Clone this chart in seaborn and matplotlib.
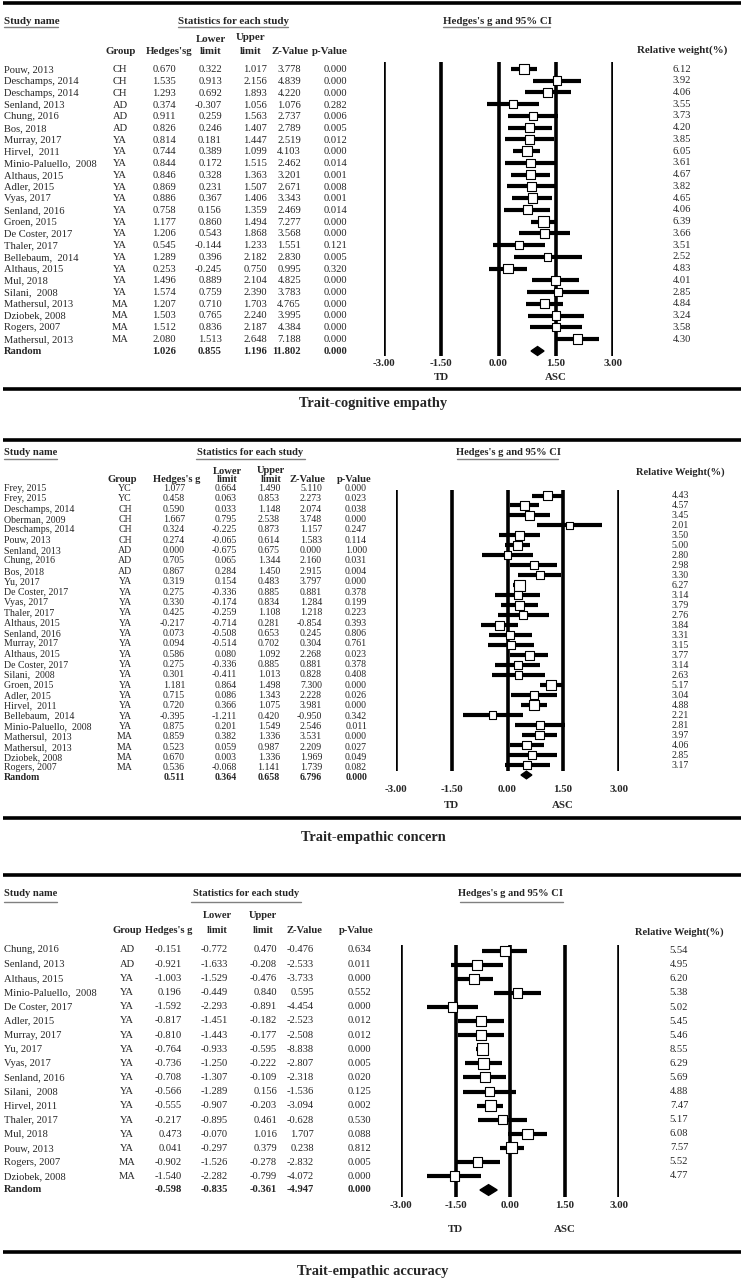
import pandas as pd
import seaborn as sns
import matplotlib.pyplot as plt

# ---------------- Trait-cognitive empathy ----------------
cog_names = ["Pouw, 2013", "Deschamps, 2014", "Deschamps, 2014", "Senland, 2013", "Chung, 2016",
             "Bos, 2018", "Murray, 2017", "Hirvel,  2011", "Minio-Paluello,  2008", "Althaus, 2015",
             "Adler, 2015", "Vyas, 2017", "Senland, 2016", "Groen, 2015", "De Coster, 2017",
             "Thaler, 2017", "Bellebaum,  2014", "Althaus, 2015", "Mul, 2018", "Silani,  2008",
             "Mathersul, 2013", "Dziobek, 2008", "Rogers, 2007", "Mathersul, 2013"]
cog_group = ["CH", "CH", "CH", "AD", "AD", "AD", "YA", "YA", "YA", "YA", "YA", "YA", "YA", "YA",
             "YA", "YA", "YA", "YA", "YA", "YA", "MA", "MA", "MA", "MA"]
cog_g = [0.670, 1.535, 1.293, 0.374, 0.911, 0.826, 0.814, 0.744, 0.844, 0.846, 0.869, 0.886,
         0.758, 1.177, 1.206, 0.545, 1.289, 0.253, 1.496, 1.574, 1.207, 1.503, 1.512, 2.080]
cog_lo = [0.322, 0.913, 0.692, -0.307, 0.259, 0.246, 0.181, 0.389, 0.172, 0.328, 0.231, 0.367,
          0.156, 0.860, 0.543, -0.144, 0.396, -0.245, 0.889, 0.759, 0.710, 0.765, 0.836, 1.513]
cog_hi = [1.017, 2.156, 1.893, 1.056, 1.563, 1.407, 1.447, 1.099, 1.515, 1.363, 1.507, 1.406,
          1.359, 1.494, 1.868, 1.233, 2.182, 0.750, 2.104, 2.390, 1.703, 2.240, 2.187, 2.648]
cog_z = [3.778, 4.839, 4.220, 1.076, 2.737, 2.789, 2.519, 4.103, 2.462, 3.201, 2.671, 3.343,
         2.469, 7.277, 3.568, 1.551, 2.830, 0.995, 4.825, 3.783, 4.765, 3.995, 4.384, 7.188]
cog_p = [0.000, 0.000, 0.000, 0.282, 0.006, 0.005, 0.012, 0.000, 0.014, 0.001, 0.008, 0.001,
         0.014, 0.000, 0.000, 0.121, 0.005, 0.320, 0.000, 0.000, 0.000, 0.000, 0.000, 0.000]
cog_w = [6.12, 3.92, 4.06, 3.55, 3.73, 4.20, 3.85, 6.05, 3.61, 4.67, 3.82, 4.65, 4.06, 6.39,
         3.66, 3.51, 2.52, 4.83, 4.01, 2.85, 4.84, 3.24, 3.58, 4.30]
cog_random = [1.026, 0.855, 1.196, 11.802, 0.000]

# ---------------- Trait-empathic concern ----------------
con_names = ["Frey, 2015", "Frey, 2015", "Deschamps, 2014", "Oberman, 2009", "Deschamps, 2014",
             "Pouw, 2013", "Senland, 2013", "Chung, 2016", "Bos, 2018", "Yu, 2017",
             "De Coster, 2017", "Vyas, 2017", "Thaler, 2017", "Althaus, 2015", "Senland, 2016",
             "Murray, 2017", "Althaus, 2015", "De Coster, 2017", "Silani,  2008", "Groen, 2015",
             "Adler, 2015", "Hirvel,  2011", "Bellebaum,  2014", "Minio-Paluello,  2008",
             "Mathersul,  2013", "Mathersul,  2013", "Dziobek, 2008", "Rogers, 2007"]
con_group = ["YC", "YC", "CH", "CH", "CH", "CH", "AD", "AD", "AD", "YA", "YA", "YA", "YA", "YA",
             "YA", "YA", "YA", "YA", "YA", "YA", "YA", "YA", "YA", "YA", "MA", "MA", "MA", "MA"]
con_g = [1.077, 0.458, 0.590, 1.667, 0.324, 0.274, 0.000, 0.705, 0.867, 0.319, 0.275, 0.330,
         0.425, -0.217, 0.073, 0.094, 0.586, 0.275, 0.301, 1.181, 0.715, 0.720, -0.395, 0.875,
         0.859, 0.523, 0.670, 0.536]
con_lo = [0.664, 0.063, 0.033, 0.795, -0.225, -0.065, -0.675, 0.065, 0.284, 0.154, -0.336,
          -0.174, -0.259, -0.714, -0.508, -0.514, 0.080, -0.336, -0.411, 0.864, 0.086, 0.366,
          -1.211, 0.201, 0.382, 0.059, 0.003, -0.068]
con_hi = [1.490, 0.853, 1.148, 2.538, 0.873, 0.614, 0.675, 1.344, 1.450, 0.483, 0.885, 0.834,
          1.108, 0.281, 0.653, 0.702, 1.092, 0.885, 1.013, 1.498, 1.343, 1.075, 0.420, 1.549,
          1.336, 0.987, 1.336, 1.141]
con_z = [5.110, 2.273, 2.074, 3.748, 1.157, 1.583, 0.000, 2.160, 2.915, 3.797, 0.881, 1.284,
         1.218, -0.854, 0.245, 0.304, 2.268, 0.881, 0.828, 7.300, 2.228, 3.981, -0.950, 2.546,
         3.531, 2.209, 1.969, 1.739]
con_p = [0.000, 0.023, 0.038, 0.000, 0.247, 0.114, 1.000, 0.031, 0.004, 0.000, 0.378, 0.199,
         0.223, 0.393, 0.806, 0.761, 0.023, 0.378, 0.408, 0.000, 0.026, 0.000, 0.342, 0.011,
         0.000, 0.027, 0.049, 0.082]
con_w = [4.43, 4.57, 3.45, 2.01, 3.50, 5.00, 2.80, 2.98, 3.30, 6.27, 3.14, 3.79, 2.76, 3.84,
         3.31, 3.15, 3.77, 3.14, 2.63, 5.17, 3.04, 4.88, 2.21, 2.81, 3.97, 4.06, 2.85, 3.17]
con_random = [0.511, 0.364, 0.658, 6.796, 0.000]

# ---------------- Trait-empathic accuracy ----------------
acc_names = ["Chung, 2016", "Senland, 2013", "Althaus, 2015", "Minio-Paluello,  2008",
             "De Coster, 2017", "Adler, 2015", "Murray, 2017", "Yu, 2017", "Vyas, 2017",
             "Senland, 2016", "Silani,  2008", "Hirvel, 2011", "Thaler, 2017", "Mul, 2018",
             "Pouw, 2013", "Rogers, 2007", "Dziobek, 2008"]
acc_group = ["AD", "AD", "YA", "YA", "YA", "YA", "YA", "YA", "YA", "YA", "YA", "YA", "YA", "YA",
             "YA", "MA", "MA"]
acc_g = [-0.151, -0.921, -1.003, 0.196, -1.592, -0.817, -0.810, -0.764, -0.736, -0.708, -0.566,
         -0.555, -0.217, 0.473, 0.041, -0.902, -1.540]
acc_lo = [-0.772, -1.633, -1.529, -0.449, -2.293, -1.451, -1.443, -0.933, -1.250, -1.307,
          -1.289, -0.907, -0.895, -0.070, -0.297, -1.526, -2.282]
acc_hi = [0.470, -0.208, -0.476, 0.840, -0.891, -0.182, -0.177, -0.595, -0.222, -0.109, 0.156,
          -0.203, 0.461, 1.016, 0.379, -0.278, -0.799]
acc_z = [-0.476, -2.533, -3.733, 0.595, -4.454, -2.523, -2.508, -8.838, -2.807, -2.318, -1.536,
         -3.094, -0.628, 1.707, 0.238, -2.832, -4.072]
acc_p = [0.634, 0.011, 0.000, 0.552, 0.000, 0.012, 0.012, 0.000, 0.005, 0.020, 0.125, 0.002,
         0.530, 0.088, 0.812, 0.005, 0.000]
acc_w = [5.54, 4.95, 6.20, 5.38, 5.02, 5.45, 5.46, 8.55, 6.29, 5.69, 4.88, 7.47, 5.17, 6.08,
         7.57, 5.52, 4.77]
acc_random = [-0.598, -0.835, -0.361, -4.947, 0.000]

axis_ticks = [-3.0, -1.5, 0.0, 1.5, 3.0]

# ---------------- layout (pixel positions) ----------------
layout_cog = dict(top_line=3, bot_line=389, head1=22, underline=27, lower_y=39, upper_y=38,
                  head2=52, study_ul=(4, 58), stats_x=233, stats_ul=(178, 288),
                  ci_x=497, ci_ul=(443, 550), fs=7.6, hfs=7.8,
                  num_right=dict(g=176, lo=222, hi=267, z=301, p=347), group_x=120,
                  head_x=dict(group=121, g=169, lo=211, hi=251, z=290, p=330),
                  row_top=70, row_bot=339.3, rand_y=351.7,
                  f_top=69, f_bot=339, f_rand=351, v_top=62, v_bot=356,
                  xm3=384.3, xp3=612.7, tick_y=363, tdasc_y=378,
                  w_x=682, w_head_y=50, w_label="Relative weight(%)", g_label="Hedges'sg",
                  title="Trait-cognitive empathy", title_y=403)
layout_con = dict(top_line=440, bot_line=818, head1=452.7, underline=459.3, lower_y=471.2,
                  upper_y=470.2, head2=480, study_ul=(4, 57), stats_x=250, stats_ul=(196, 305),
                  ci_x=508, ci_ul=(457, 558), fs=7.1, hfs=7.6,
                  num_right=dict(g=185, lo=237, hi=280, z=322, p=367), group_x=125,
                  head_x=dict(group=122, g=177, lo=227, hi=271, z=307, p=354),
                  row_top=488.5, row_bot=768, rand_y=777.5,
                  f_top=495.5, f_bot=765, f_rand=775, v_top=490, v_bot=771,
                  xm3=396.3, xp3=618.7, tick_y=789.3, tdasc_y=805.7,
                  w_x=680, w_head_y=471.7, w_label="Relative Weight(%)", g_label="Hedges's g",
                  title="Trait-empathic concern", title_y=837)
layout_acc = dict(top_line=875, bot_line=1251.7, head1=893.3, underline=902.3, lower_y=915,
                  upper_y=915, head2=930.7, study_ul=(4, 57), stats_x=246, stats_ul=(191, 301),
                  ci_x=511, ci_ul=(460, 563), fs=7.6, hfs=7.6,
                  num_right=dict(g=182, lo=228, hi=277, z=314, p=371), group_x=127,
                  head_x=dict(group=127, g=169, lo=217, hi=263, z=304, p=356),
                  row_top=950, row_bot=1176.7, rand_y=1189.3,
                  f_top=950.7, f_bot=1176, f_rand=1190, v_top=945, v_bot=1196.7,
                  xm3=401.3, xp3=619.3, tick_y=1205, tdasc_y=1230,
                  w_x=679, w_head_y=931.7, w_label="Relative Weight(%)", g_label="Hedges's g",
                  title="Trait-empathic accuracy", title_y=1272)

sns.set_style("white")
plt.rcParams['font.family'] = ['Liberation Serif', 'DejaVu Serif']

W, H = 744, 1280
fig = plt.figure(figsize=(W / 100, H / 100), dpi=100)
bg = fig.add_axes([0, 0, 1, 1])
bg.set_xlim(0, W)
bg.set_ylim(H, 0)
bg.axis('off')


def draw_panel(L, names, groups, g, lo, hi, z, p, w, rnd):
    n = len(names)
    FS, HFS = L['fs'], L['hfs']
    # thick rules
    for y in (L['top_line'], L['bot_line']):
        bg.plot([3, 741], [y, y], color='black', lw=2.6, solid_capstyle='butt')

    # headers
    bg.text(4, L['head1'], "Study name", fontsize=HFS, weight='bold', va='center')
    bg.text(L['stats_x'], L['head1'], "Statistics for each study", fontsize=HFS,
            weight='bold', ha='center', va='center')
    bg.text(L['ci_x'], L['head1'], "Hedges's g and 95% CI", fontsize=HFS, weight='bold',
            ha='center', va='center')
    for x0, x1 in (L['study_ul'], L['stats_ul'], L['ci_ul']):
        bg.plot([x0, x1], [L['underline']] * 2, color='#808080', lw=1.0)
    hx = L['head_x']
    bg.text(hx['lo'], L['lower_y'], "Lower", fontsize=HFS, weight='bold', ha='center', va='center')
    bg.text(hx['hi'], L['upper_y'], "Upper", fontsize=HFS, weight='bold', ha='center', va='center')
    for key, lab in (('group', "Group"), ('g', L['g_label']), ('lo', "limit"), ('hi', "limit"),
                     ('z', "Z-Value"), ('p', "p-Value")):
        bg.text(hx[key], L['head2'], lab, fontsize=HFS, weight='bold', ha='center', va='center')
    bg.text(L['w_x'], L['w_head_y'], L['w_label'], fontsize=HFS, weight='bold',
            ha='center', va='center')

    # table rows
    step = (L['row_bot'] - L['row_top']) / (n - 1)
    nr = L['num_right']
    for i in range(n):
        y = L['row_top'] + i * step
        bg.text(4, y, names[i], fontsize=FS, va='center')
        bg.text(L['group_x'], y, groups[i], fontsize=FS, ha='center', va='center')
        for key, val in (('g', g[i]), ('lo', lo[i]), ('hi', hi[i]), ('z', z[i]), ('p', p[i])):
            bg.text(nr[key], y, f"{val:.3f}", fontsize=FS, ha='right', va='center')
    bg.text(4, L['rand_y'], "Random", fontsize=FS, weight='bold', va='center')
    for key, val in zip(('g', 'lo', 'hi', 'z', 'p'), rnd):
        bg.text(nr[key], L['rand_y'], f"{val:.3f}", fontsize=FS, weight='bold',
                ha='right', va='center')

    # weights
    fstep = (L['f_bot'] - L['f_top']) / (n - 1)
    for i in range(n):
        bg.text(L['w_x'], L['f_top'] + i * fstep, f"{w[i]:.2f}", fontsize=FS,
                ha='center', va='center')

    # forest plot axes
    x0, x1 = L['xm3'], L['xp3']
    ax = fig.add_axes([x0 / W, 1 - L['v_bot'] / H, (x1 - x0) / W, (L['v_bot'] - L['v_top']) / H])
    to_row = lambda ypx: (ypx - L['f_top']) / fstep
    for t in axis_ticks:
        ax.axvline(t, color='black', lw=2.6, zorder=1)
    df = pd.DataFrame({'g': g, 'lo': lo, 'hi': hi, 'w': w, 'row': range(n)})
    ax.hlines(df['row'], df['lo'], df['hi'], color='black', lw=3.0, zorder=2)
    sns.scatterplot(data=df, x='g', y='row', size='w',
                    sizes=(12 + 7 * min(w), 12 + 7 * max(w)),
                    marker='s', color='white', edgecolor='black', linewidth=0.8,
                    legend=False, ax=ax, zorder=4, clip_on=False)
    ax.set_xlim(-3, 3)
    ax.set_ylim(to_row(L['v_bot']), to_row(L['v_top']))
    ax.axis('off')
    rr = to_row(L['f_rand'])
    hh = 0.38
    ax.fill([rnd[1], rnd[0], rnd[2], rnd[0]], [rr, rr - hh, rr, rr + hh], color='black',
            zorder=5, clip_on=False)

    # axis labels
    unit = (x1 - x0) / 6
    for t in axis_ticks:
        bg.text(x0 + (t + 3) * unit, L['tick_y'], f"{t:.2f}", fontsize=7.8, weight='bold',
                ha='center', va='center')
    bg.text(x0 + 1.5 * unit, L['tdasc_y'], "TD", fontsize=7.8, weight='bold', ha='center', va='center')
    bg.text(x0 + 4.5 * unit, L['tdasc_y'], "ASC", fontsize=7.8, weight='bold', ha='center', va='center')

    bg.text(373, L['title_y'], L['title'], fontsize=10.4, weight='bold', ha='center', va='center')


draw_panel(layout_cog, cog_names, cog_group, cog_g, cog_lo, cog_hi, cog_z, cog_p, cog_w, cog_random)
draw_panel(layout_con, con_names, con_group, con_g, con_lo, con_hi, con_z, con_p, con_w, con_random)
draw_panel(layout_acc, acc_names, acc_group, acc_g, acc_lo, acc_hi, acc_z, acc_p, acc_w, acc_random)

fig.savefig("out.png", dpi=100)
